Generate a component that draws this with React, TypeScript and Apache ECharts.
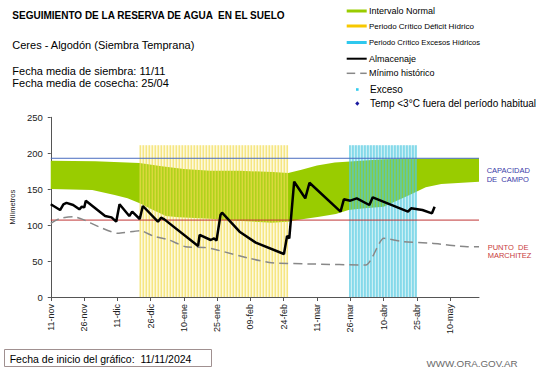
import React, { useEffect, useRef } from "react";
import * as echarts from "echarts";

// ---- DATA (day index from 11-nov-2024) ----
const TICK_LABELS = ["11-nov", "26-nov", "11-dic", "26-dic", "10-ene", "25-ene", "09-feb", "24-feb", "11-mar", "26-mar", "10-abr", "25-abr", "10-may"];
const TICK_STEP = 15;
const X_MAX = 193;

const NORMAL_UPPER: [number, number][] = [
  [0, 189.5], [20, 189], [40, 186.5], [50, 182], [60, 178], [72, 175.5], [85, 175.5], [100, 174], [107, 172.5],
  [113, 177], [120, 183], [128, 187], [140, 189.5], [150, 191.5], [160, 192.5], [193, 193],
];
const NORMAL_LOWER: [number, number][] = [
  [0, 150.3], [18.7, 149], [28.8, 142], [34.6, 137.3], [40.1, 130.3], [46.1, 121], [51.9, 112.7], [57.7, 110.8],
  [72, 109], [78, 107], [99.6, 103.4], [106.8, 104.8], [111, 107], [121, 111.7], [128.5, 115.5], [134.2, 121],
  [141.5, 123.4], [150, 125.6], [161.7, 142], [169, 152.6], [176, 157.2], [193, 160.4],
];
const ALMACENAJE: [number, number][] = [
  [0, 129], [4.2, 121], [5.7, 129], [7.1, 131], [10.1, 128], [12.9, 122], [14, 125.6], [15.1, 124.7], [15.8, 134],
  [24.5, 112.7], [27.4, 110.8], [29.5, 104.8], [31, 129], [35.4, 112.7], [36.7, 118.7], [40.1, 108.5], [41.5, 126.6],
  [48.3, 104.8], [49.7, 110.3], [51.2, 108], [66.4, 71], [67.1, 86.3], [72.1, 79.3], [73.6, 81.6], [74.7, 78.4],
  [76.5, 114], [77.2, 117.3], [85.1, 90.9], [92.4, 75.6], [105.1, 59.8], [106.5, 84.9], [107.5, 81.6], [109.7, 160.4],
  [114.7, 137.3], [116.6, 159], [130.6, 118.7], [132.1, 135.9], [135, 134], [137.9, 137.3], [143.6, 128], [145.1, 138.7],
  [161, 118.7], [162.4, 123.4], [167.5, 121], [171.8, 116.4], [173, 125.6],
];
const MINIMO: [number, number][] = [
  [0, 102.5], [4.2, 109.5], [10.1, 111.7], [14.4, 108], [21.6, 97.8], [30.2, 88.6], [40.4, 92.3], [46.1, 84.9],
  [53.4, 79.3], [60.6, 70], [69.2, 69], [75, 65.4], [89.5, 53.8], [99.6, 47.7], [118.4, 45.9], [142, 44.5],
  [150.1, 81.6], [158.8, 77], [171.8, 74.7], [187.7, 70], [193, 70],
];
// critical periods: [startDay, endDay, top]
const PERIODS: [number, number, number][] = [
  [40, 107, 211], // Déficit hídrico
  [134.5, 165, 211], // Excesos hídricos
];
const CAPACIDAD_CAMPO = 193;
const PUNTO_MARCHITEZ = 107;

const FONT = "Arial, 'Liberation Sans', sans-serif";
const GREEN = "#99cc00";

const PERIOD_STYLE = [
  { bg: "rgba(248,230,110,0.25)", line: "rgba(242,220,80,0.7)" },
  { bg: "rgba(90,205,225,0.32)", line: "rgba(80,200,225,0.8)" },
];

export default function App() {
  const ref = useRef<HTMLDivElement>(null);
  useEffect(() => {
    if (!ref.current) return;
    const chart = echarts.init(ref.current, null, { renderer: "svg" });
    const tickDays = TICK_LABELS.map((_, i) => i * TICK_STEP);

    const txt = (text: string, x: number, y: number, size: number, extra: any = {}) => ({
      type: "text",
      x,
      y,
      style: { text, fontSize: size, fontFamily: FONT, fill: "#000", textVerticalAlign: "middle", ...extra },
    });

    const LX = 346.7;
    const TX = 369;
    const legend: any[] = [
      { type: "rect", shape: { x: LX, y: 9.5, width: 20, height: 3 }, style: { fill: GREEN } },
      txt("Intervalo Normal", TX, 11, 9),
      { type: "rect", shape: { x: LX, y: 24.5, width: 20, height: 3 }, style: { fill: "#f7c800" } },
      txt("Periodo Crítico Déficit Hídrico", TX, 26, 8),
      { type: "rect", shape: { x: LX, y: 41, width: 20, height: 3 }, style: { fill: "#2ec8ee" } },
      txt("Periodo Crítico Excesos Hídricos", TX, 42.7, 7.6),
      { type: "line", shape: { x1: LX, y1: 58.7, x2: LX + 20, y2: 58.7 }, style: { stroke: "#000", lineWidth: 2 } },
      txt("Almacenaje", TX, 58.7, 9),
      { type: "line", shape: { x1: LX, y1: 73.3, x2: LX + 8.5, y2: 73.3 }, style: { stroke: "#888", lineWidth: 1.5 } },
      { type: "line", shape: { x1: LX + 13.5, y1: 73.3, x2: LX + 20, y2: 73.3 }, style: { stroke: "#888", lineWidth: 1.5 } },
      txt("Mínimo histórico", TX, 73.3, 9),
      { type: "rect", shape: { x: 356, y: 88.2, width: 2.6, height: 2.6 }, style: { fill: "#33ccee" } },
      txt("Exceso", TX + 1, 89.5, 10),
      { type: "polygon", shape: { points: [[357.3, 101.3], [359.4, 103.5], [357.3, 105.7], [355.2, 103.5]] }, style: { fill: "#1a1aa0" } },
      txt("Temp <3°C fuera del período habitual", TX + 1, 103.5, 10),
    ];

    const option: any = {
      animation: false,
      grid: { left: 33.5, right: 62, top: 117.3, bottom: 71 },
      xAxis: {
        type: "value",
        min: 0,
        max: X_MAX,
        interval: TICK_STEP,
        axisLine: { lineStyle: { color: "#555", width: 1 } },
        axisTick: { show: true, length: 4, customValues: tickDays, lineStyle: { color: "#555" } },
        axisLabel: {
          customValues: tickDays,
          formatter: (v: number) => TICK_LABELS[Math.round(v / TICK_STEP)] ?? "",
          rotate: 90,
          fontSize: 9,
          fontFamily: FONT,
          color: "#222",
          margin: 7,
        },
        splitLine: { show: false },
      },
      yAxis: {
        type: "value",
        min: 0,
        max: 250,
        interval: 50,
        name: "Milímetros",
        nameLocation: "middle",
        nameGap: 24,
        nameTextStyle: { fontSize: 7.5, fontFamily: FONT, color: "#222" },
        axisLine: { show: true, lineStyle: { color: "#555", width: 1 } },
        axisTick: { show: true, length: 3, lineStyle: { color: "#555" } },
        axisLabel: { fontSize: 9.5, fontFamily: FONT, color: "#222", margin: 8 },
        splitLine: { show: false },
      },
      series: [
        {
          type: "custom",
          name: "Intervalo Normal",
          silent: true,
          z: 1,
          data: [[0, 0]],
          encode: { x: 0, y: 1 },
          renderItem: (_p: any, api: any) => {
            const pts = NORMAL_UPPER.map((d) => api.coord(d)).concat(
              NORMAL_LOWER.slice().reverse().map((d) => api.coord(d))
            );
            return { type: "polygon", shape: { points: pts }, style: { fill: GREEN } };
          },
        },
        {
          type: "custom",
          name: "Periodos Críticos",
          silent: true,
          z: 2,
          data: PERIODS,
          encode: { x: [0, 1], y: 2 },
          renderItem: (params: any, api: any) => {
            const s = api.value(0), e = api.value(1), t = api.value(2);
            const p0 = api.coord([s, t]);
            const p1 = api.coord([e, 0]);
            const st = PERIOD_STYLE[params.dataIndex];
            const children: any[] = [
              { type: "rect", shape: { x: p0[0], y: p0[1], width: p1[0] - p0[0], height: p1[1] - p0[1] }, style: { fill: st.bg } },
            ];
            for (let x = p0[0] + 0.75; x < p1[0]; x += 3) {
              children.push({ type: "line", shape: { x1: x, y1: p0[1], x2: x, y2: p1[1] }, style: { stroke: st.line, lineWidth: 1.3 } });
            }
            return { type: "group", children };
          },
        },
        {
          type: "line",
          name: "Capacidad de campo",
          data: [[0, CAPACIDAD_CAMPO], [X_MAX, CAPACIDAD_CAMPO]],
          symbol: "none",
          z: 3,
          lineStyle: { color: "#4a6cc0", width: 1 },
        },
        {
          type: "line",
          name: "Punto de marchitez",
          data: [[0, PUNTO_MARCHITEZ], [X_MAX, PUNTO_MARCHITEZ]],
          symbol: "none",
          z: 3,
          lineStyle: { color: "#c03535", width: 1 },
        },
        {
          type: "line",
          name: "Mínimo histórico",
          data: MINIMO,
          symbol: "none",
          smooth: 0.2,
          z: 4,
          lineStyle: { color: "#888", width: 1.5, type: [9, 5] },
        },
        {
          type: "line",
          name: "Almacenaje",
          data: ALMACENAJE,
          symbol: "none",
          z: 5,
          lineStyle: { color: "#000", width: 2.5 },
        },
      ],
      graphic: [
        txt("SEGUIMIENTO DE LA RESERVA DE AGUA  EN EL SUELO", 12.3, 15.7, 10, { fontWeight: "bold" }),
        txt("Ceres - Algodón (Siembra Temprana)", 12.3, 45, 11),
        txt("Fecha media de siembra: 11/11", 12.3, 70.7, 11),
        txt("Fecha media de cosecha: 25/04", 12.3, 82.7, 11),
        ...legend,
        txt("CAPACIDAD", 486.7, 170, 7.5, { fill: "#3a3aa8" }),
        txt("DE  CAMPO", 486.7, 179, 7.5, { fill: "#3a3aa8" }),
        txt("PUNTO  DE", 487.7, 247.3, 7.5, { fill: "#c83c3c" }),
        txt("MARCHITEZ", 487.7, 255.5, 7.5, { fill: "#c83c3c" }),
        { type: "rect", shape: { x: 4.5, y: 349.5, width: 207, height: 17 }, style: { fill: "none", stroke: "#a09090", lineWidth: 1 } },
        txt("Fecha de inicio del gráfico:  11/11/2024", 9.7, 358.5, 10.5),
        txt("WWW.ORA.GOV.AR", 426.6, 363, 9.8, { fill: "#6a6a6a" }),
      ],
    };
    chart.setOption(option);
    return () => chart.dispose();
  }, []);
  return <div ref={ref} style={{ position: "absolute", left: 0, top: 0, width: 541, height: 368, background: "#fff" }} />;
}
